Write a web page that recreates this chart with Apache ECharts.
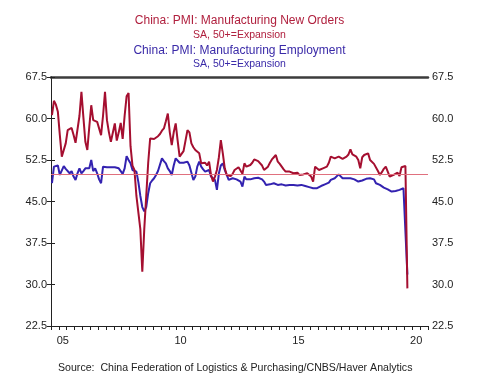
<!DOCTYPE html>
<html>
<head>
<meta charset="utf-8">
<script src="https://cdn.jsdelivr.net/npm/echarts@6/dist/echarts.min.js"></script>
<style>
  html,body{margin:0;padding:0;background:#fff;}
  #main{width:479px;height:377px;}
</style>
</head>
<body>
<div id="main"></div>
<script>
// monthly data, Jan 2005 .. Feb 2020
let newOrders=[
  60.6,63.2,62.5,61.2,57.0,53.1,53.0,55.5,57.9,57.8,58.3,57.0,  //2005
  55.6,55.6,60.5,64.8,60.2,55.8,54.3,58.5,62.4,59.7,59.5,59.4,  //2006
  59.1,57.0,60.5,64.8,59.7,57.5,55.8,56.0,59.1,56.0,57.5,59.2,  //2007
  56.3,60.5,64.0,64.6,55.0,51.5,50.7,46.0,45.8,40.0,32.3,40.0,  //2008
  46.0,52.0,56.4,56.3,56.3,56.5,56.8,57.2,57.8,58.2,59.5,60.9,  //2009
  57.5,55.2,57.5,59.1,56.0,53.1,53.6,54.1,56.0,57.9,57.5,55.5,  //2010
  54.8,54.3,54.0,53.7,51.9,51.9,52.0,51.5,52.2,49.8,48.6,49.5,  //2011
  50.7,53.0,56.1,53.7,51.0,49.8,49.6,49.6,50.0,50.7,51.0,51.2,  //2012
  51.3,50.0,51.9,51.3,51.4,51.6,52.0,52.6,52.5,52.3,52.2,51.5,  //2013
  50.7,50.5,51.3,52.0,52.6,53.0,53.4,52.2,51.8,51.3,50.8,50.4,  //2014
  50.2,50.4,50.2,50.1,50.4,50.2,49.8,49.8,49.9,49.7,50.1,49.8,  //2015
  49.5,48.6,51.3,51.0,50.7,50.5,51.0,51.3,51.3,52.0,53.1,53.2,  //2016
  52.8,53.0,53.1,53.1,52.7,52.5,53.1,53.5,54.4,53.5,53.4,53.1,  //2017
  52.5,51.0,53.0,53.4,53.5,53.7,52.5,52.2,51.8,51.6,50.5,49.8,  //2018
  50.3,50.9,51.3,51.4,49.5,49.5,49.8,49.6,50.2,49.6,51.2,51.2,  //2019
  51.4,29.3                                                    //2020
];
let employment=[
  48.3,51.3,51.4,51.5,49.8,50.1,51.4,50.9,50.7,50.1,50.5,49.5,
  48.9,50.1,51.0,50.1,50.5,51.0,51.0,51.0,52.5,50.5,51.0,50.1,
  49.0,48.3,51.3,51.5,51.2,51.2,51.2,51.5,51.2,51.3,51.0,50.7,
  50.0,51.0,53.2,52.5,51.9,50.7,50.4,50.4,48.5,46.0,44.0,43.2,
  44.0,46.5,48.3,48.8,49.2,49.8,50.5,50.7,52.8,52.3,51.9,51.0,
  50.5,49.8,51.5,52.8,53.1,52.0,51.9,52.0,52.0,52.2,51.5,51.8,
  48.9,49.5,51.3,52.2,51.3,50.8,50.4,50.5,50.7,49.5,49.2,48.9,
  47.1,50.1,51.5,51.9,50.7,49.8,48.9,49.1,49.2,48.9,49.0,48.9,
  48.6,47.7,49.5,49.0,49.0,49.0,49.1,49.2,49.2,49.3,49.5,49.0,
  48.6,48.0,48.0,48.1,48.2,48.3,48.2,48.0,48.0,48.1,48.0,47.9,
  47.7,48.0,48.0,48.0,47.8,47.9,47.7,48.0,47.9,47.8,47.7,47.6,
  47.4,47.4,47.6,47.4,47.5,47.8,48.0,48.1,48.3,48.4,48.9,48.9,
  49.2,49.5,49.9,49.8,49.2,49.1,49.2,49.3,49.2,49.1,49.0,48.9,
  48.6,48.3,48.8,49.0,49.1,49.1,49.2,49.5,49.0,48.3,48.2,48.0,
  47.7,47.5,47.4,47.2,46.9,46.8,46.8,46.9,47.1,47.1,47.4,47.4,
  47.5,31.8
];
let yearLabels=['05','10','15','20'];   //labels under mid-year of 2005,2010,2015,2020
let yTicks=[22.5,30.0,37.5,45.0,52.5,60.0,67.5];

let redColor='#a50f30';
let blueColor='#3322b0';

// x is months since Jan 2005, points at mid-month
function toPairs(arr){
  return arr.map(function(v,i){ return [i+0.5,v]; });
}

let mychart=echarts.init(document.getElementById('main'));

let yAxisBase={
  type:'value',
  min:yTicks[0],
  max:yTicks[yTicks.length-1],
  interval:7.5,
  splitLine:{show:false},
  axisLine:{show:true,lineStyle:{color:'#222',width:1}},
  axisTick:{show:true,length:4,lineStyle:{color:'#222'}},
  axisLabel:{
    color:'#222',fontSize:11,fontFamily:'Liberation Sans, Arial',margin:4,
    formatter:function(v){ return v.toFixed(1); }
  }
};

let option={
  animation:false,
  backgroundColor:'#fff',
  title:[
    {text:'China: PMI: Manufacturing New Orders',left:'center',top:10,
      textStyle:{color:'#b0203e',fontSize:12,fontWeight:'normal',fontFamily:'Liberation Sans, Arial'}},
    {text:'SA, 50+=Expansion',left:'center',top:25,
      textStyle:{color:'#b0203e',fontSize:10.5,fontWeight:'normal',fontFamily:'Liberation Sans, Arial'}},
    {text:'China: PMI: Manufacturing Employment',left:'center',top:40,
      textStyle:{color:'#3a2aa8',fontSize:12,fontWeight:'normal',fontFamily:'Liberation Sans, Arial'}},
    {text:'SA, 50+=Expansion',left:'center',top:54,
      textStyle:{color:'#3a2aa8',fontSize:10.5,fontWeight:'normal',fontFamily:'Liberation Sans, Arial'}},
    {text:'Source:  China Federation of Logistics & Purchasing/CNBS/Haver Analytics',left:53,top:358,
      textStyle:{color:'#222',fontSize:10.6,fontWeight:'normal',fontFamily:'Liberation Sans, Arial'}}
  ],
  grid:{left:51,right:51,top:77,bottom:51,containLabel:false},
  xAxis:[
    { //ticks
      type:'value',position:'bottom',min:0,max:192,interval:4,
      splitLine:{show:false},
      axisLine:{show:true,lineStyle:{color:'#222',width:1}},
      axisTick:{show:true,length:4,lineStyle:{color:'#222'}},
      axisLabel:{show:false}
    },
    { //year labels
      type:'value',position:'bottom',min:0,max:192,interval:6,
      splitLine:{show:false},
      axisLine:{show:false},
      axisTick:{show:false},
      axisLabel:{
        color:'#222',fontSize:11,fontFamily:'Liberation Sans, Arial',margin:9,
        showMinLabel:true,showMaxLabel:true,
        formatter:function(v){
          let k=(v-6)/60;
          if(Math.abs(k-Math.round(k))<1e-6 && Math.round(k)>=0 && Math.round(k)<yearLabels.length){
            return yearLabels[Math.round(k)];
          }
          return '';
        }
      }
    },
    { //top border
      type:'value',position:'top',min:0,max:192,
      splitLine:{show:false},
      axisLine:{show:true,lineStyle:{color:'#3c3c3c',width:2.5}},
      axisTick:{show:false},
      axisLabel:{show:false}
    }
  ],
  yAxis:[
    Object.assign({},yAxisBase,{position:'left'}),
    Object.assign({},yAxisBase,{position:'right'})
  ],
  series:[
    {
      name:'50 line',type:'line',data:[],z:1,
      markLine:{
        silent:true,symbol:'none',label:{show:false},
        lineStyle:{color:'#e0707e',width:1.2,type:'solid'},
        data:[{yAxis:50}]
      }
    },
    {
      name:'Employment',type:'line',data:toPairs(employment),
      showSymbol:false,z:2,
      lineStyle:{color:blueColor,width:2},
      itemStyle:{color:blueColor}
    },
    {
      name:'New Orders',type:'line',data:toPairs(newOrders),
      showSymbol:false,z:3,
      lineStyle:{color:redColor,width:2},
      itemStyle:{color:redColor}
    }
  ]
};

mychart.setOption(option);
</script>
</body>
</html>
